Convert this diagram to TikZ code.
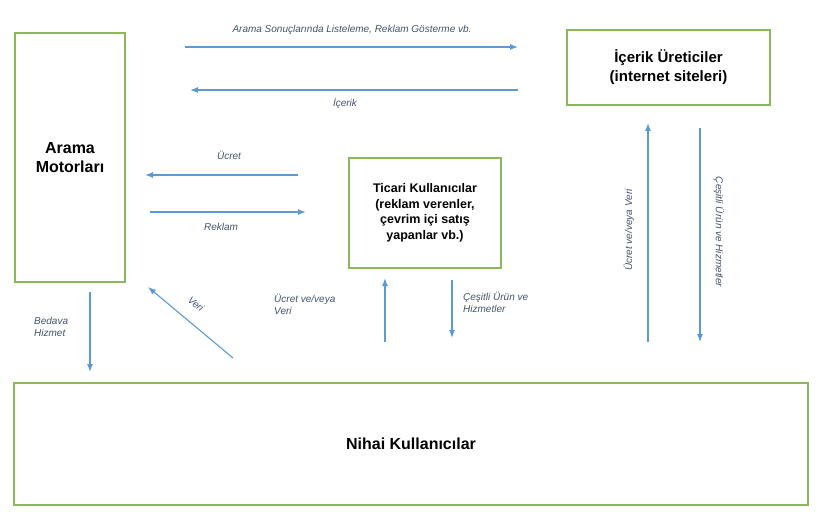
\documentclass[tikz,border=0pt]{standalone}
\usepackage{fontspec}
\setmainfont{Liberation Sans}
\usetikzlibrary{arrows.meta}
\begin{document}
\begin{tikzpicture}[x=1pt,y=-1pt]
\definecolor{gb}{HTML}{8CB85C}\definecolor{ab}{HTML}{5B9BD5}\definecolor{lt}{HTML}{44546A}
\tikzset{box/.style={draw=gb,line width=1.5pt,align=center,font=\bfseries,inner sep=0},
  arr/.style={draw=ab,line width=1.1pt,-{Latex[length=8pt,width=6pt]}},
  lab/.style={font=\itshape\fontsize{10}{12}\selectfont,text=lt,align=left,inner sep=1pt}}
\useasboundingbox (0,0) rectangle (840,524);
\fill[white] (0,0) rectangle (840,524);
\node[box,minimum width=110,minimum height=249,font=\bfseries\fontsize{16}{19}\selectfont] (am) at (70,157.5) {Arama\\Motorları};
\node[box,minimum width=203,minimum height=75,font=\bfseries\fontsize{15}{19}\selectfont] (ic) at (668.5,67.5) {İçerik Üreticiler\\(internet siteleri)};
\node[box,minimum width=152,minimum height=110,font=\bfseries\fontsize{12.5}{15.5}\selectfont] (ti) at (425,213) {Ticari Kullanıcılar\\(reklam verenler,\\çevrim içi satış\\yapanlar vb.)};
\node[box,minimum width=794,minimum height=122,font=\bfseries\fontsize{16}{19}\selectfont] (ni) at (411,444) {Nihai Kullanıcılar};
\foreach \n/\x/\y in {a1/185/47,a2/518/47,b1/518/90,b2/190/90,c1/298/175,c2/145/175,d1/150/212,d2/306/212,
  e1/90/292,e2/90/372,f1/233/358,f2/148/287,g1/385/342,g2/385/278,h1/452/280,h2/452/338,
  i1/648/342,i2/648/123,j1/700/128,j2/700/342}
  \coordinate (\n) at (\x,\y);
\draw[arr] (a1)--(a2);\draw[arr] (b1)--(b2);\draw[arr] (c1)--(c2);\draw[arr] (d1)--(d2);
\draw[arr] (e1)--(e2);\draw[arr] (f1)--(f2);\draw[arr] (g1)--(g2);\draw[arr] (h1)--(h2);
\draw[arr] (i1)--(i2);\draw[arr] (j1)--(j2);
\node[lab] (l1) at (352,30) {Arama Sonuçlarında Listeleme, Reklam Gösterme vb.};
\node[lab] (l2) at (345,103) {İçerik};
\node[lab] (l3) at (229,155) {Ücret};
\node[lab] (l4) at (221,227) {Reklam};
\node[lab,anchor=west] (l5) at (33,327) {Bedava\\Hizmet};
\node[lab,rotate=-40] (l6) at (196,304) {Veri};
\node[lab,anchor=west] (l7) at (273,304) {Ücret ve/veya\\Veri};
\node[lab,anchor=west] (l8) at (462,302) {Çeşitli Ürün ve\\Hizmetler};
\node[lab,rotate=90] (l9) at (629,230) {Ücret ve/veya Veri};
\node[lab,rotate=-90] (l10) at (719,232) {Çeşitli Ürün ve Hizmetler};
\end{tikzpicture}
\end{document}
